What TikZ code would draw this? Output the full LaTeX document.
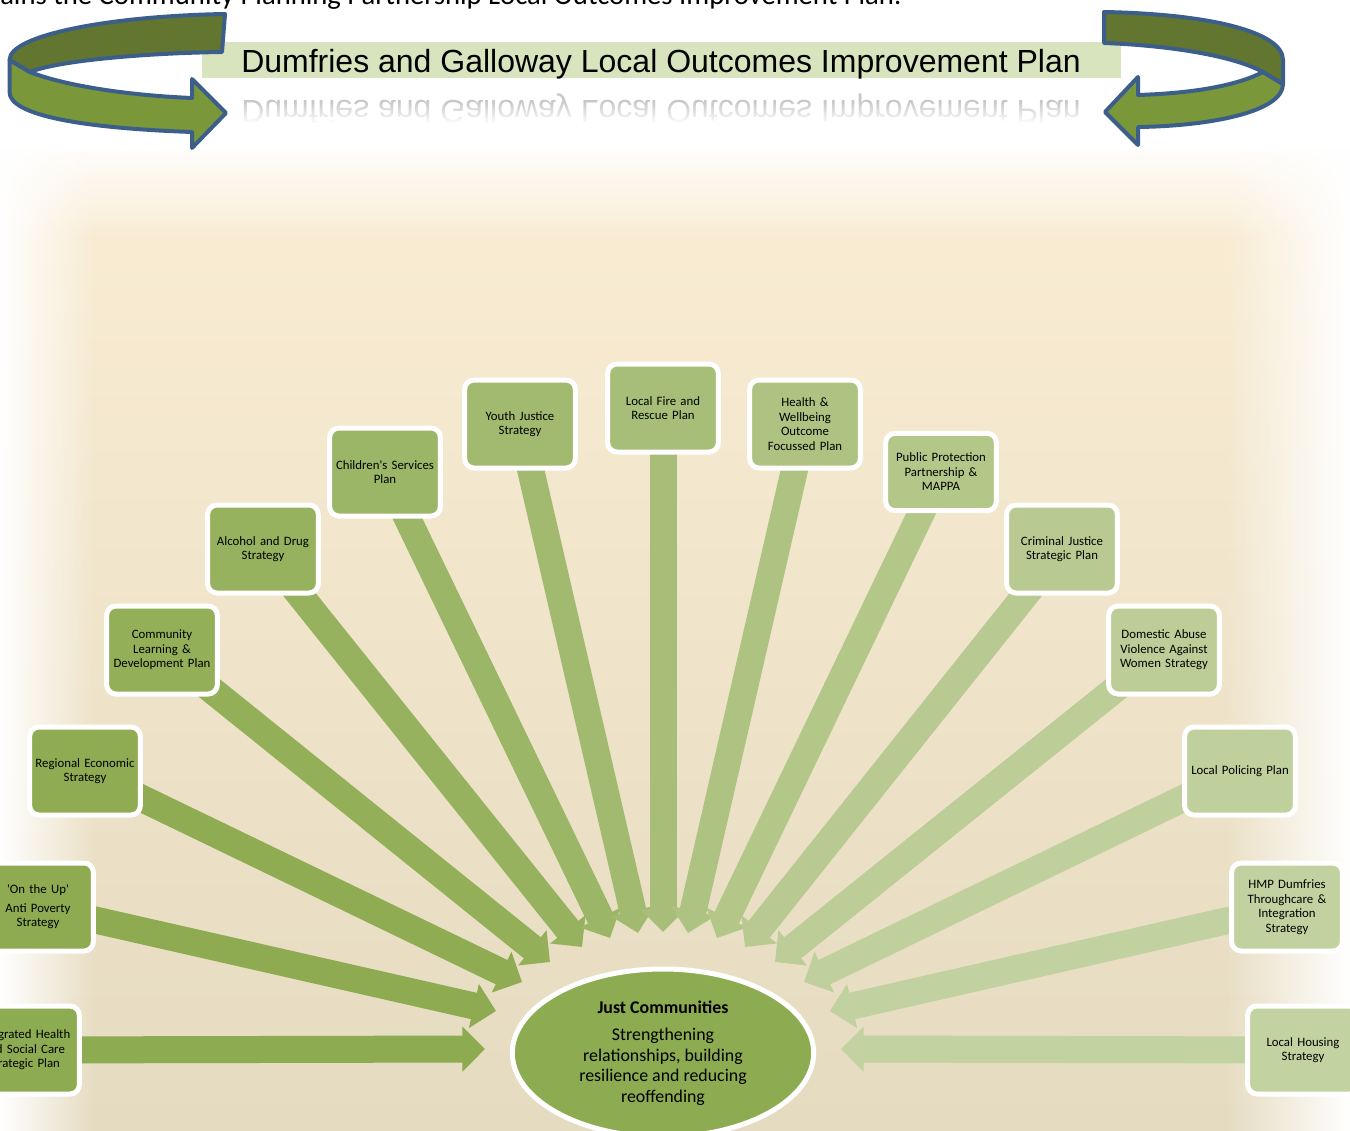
\documentclass[tikz,border=0pt]{standalone}
\usepackage{fontspec}
\setmainfont{Carlito}[Ligatures=TeXOff]
\newfontfamily\arialfont{Liberation Sans}
\usetikzlibrary{arrows.meta,shapes.geometric,fadings}

\definecolor{leafL}{RGB}{140,170,78}
\definecolor{leafR}{RGB}{196,211,163}
\definecolor{hubGreen}{RGB}{141,171,80}
\definecolor{bandGreen}{RGB}{216,228,190}
\definecolor{ribbonDark}{RGB}{98,118,48}
\definecolor{ribbonLight}{RGB}{122,152,58}
\definecolor{ribbonEdge}{RGB}{60,94,138}
\definecolor{paperTop}{RGB}{250,237,212}
\definecolor{paperMid}{RGB}{246,236,213}
\definecolor{paperBottom}{RGB}{229,219,192}

\tikzfading[name=fade right, left color=transparent!0, right color=transparent!100]
\tikzfading[name=fade left, left color=transparent!100, right color=transparent!0]
\tikzfading[name=fade down, top color=transparent!0, bottom color=transparent!100]
\tikzfading[name=fade up, top color=transparent!100, bottom color=transparent!0]

\pgfdeclarelayer{paper}
\pgfdeclarelayer{links}
\pgfsetlayers{paper,links,main}

\tikzset{
  plan/.style={draw=white, line width=3.75pt, rounded corners=7pt, text width=79pt, inner xsep=2pt,
    minimum height=66pt, align=center, font=\fontsize{9.6}{10.9}\selectfont},
  feed/.style={line width=20.25pt, -{Triangle[length=17pt,width=33pt]}},
  hub/.style={ellipse, draw=white, line width=3.75pt, fill=hubGreen, minimum width=226pt,
    minimum height=126pt, inner sep=0pt, align=center, font=\fontsize{13.4}{15.4}\selectfont},
  ribbon/.style={draw=ribbonEdge, line width=3pt, line join=round},
}

\begin{document}
\begin{tikzpicture}[x=0.75pt,y=-0.75pt]
\useasboundingbox (0,0) rectangle (1350,1131);

% Text Node
\node[anchor=base west, inner sep=0pt, font=\fontsize{21.5}{24}\selectfont] (intro) at (0,5) {ains the Community Planning Partnership Local Outcomes Improvement Plan.};

%Shape: Rectangle
\fill[bandGreen] (202,42) rectangle (1121,78);
% Text Node
\node[anchor=base, inner sep=0pt, font=\arialfont\fontsize{24}{28}\selectfont] (title) at (661,73) {Dumfries and Galloway Local Outcomes Improvement Plan};
% Text Node
\node[anchor=base, inner sep=0pt, text=black!22, font=\arialfont\fontsize{24}{28}\selectfont] (mirror) at (661,100) {\scalebox{1}[-1]{Dumfries and Galloway Local Outcomes Improvement Plan}};
\fill[white, path fading=fade up] (232,101) rectangle (1098,124);
\fill[white] (232,123) rectangle (1098,140);

%Curve Lines: left loop
\draw[ribbon, fill=ribbonLight] (9.5,60) -- (30,72) .. controls (60,84) and (120,95) .. (192,98) -- (192,79) -- (226,113) -- (192,148) -- (192,132) .. controls (80,128) and (9.5,115) .. (9.5,92) -- cycle;
\draw[ribbon, fill=ribbonDark] (225,14) .. controls (110,16) and (9.5,35) .. (9.5,60) -- (30,72) .. controls (60,60) and (150,53) .. (222,52) -- cycle;
%Curve Lines: right loop
\draw[ribbon, fill=ribbonLight] (1263,72) -- (1283,84) .. controls (1283,112) and (1210,126) .. (1138,127) -- (1138,145) -- (1105,112) -- (1138,77) -- (1138,95) .. controls (1200,93) and (1240,84) .. (1263,72) -- cycle;
\draw[ribbon, fill=ribbonDark] (1104,12) .. controls (1210,14) and (1283,32) .. (1283,60) -- (1283,84) -- (1263,72) .. controls (1230,54) and (1160,45) .. (1104,43) -- cycle;

%Shape: Rounded Rect
\node[plan, fill=leafL!98!leafR] (integ) at (24,1050) {Integrated Health\\and Social Care\\Strategic Plan};
\node[plan, fill=leafL!97!leafR] (uptown) at (38,907) {'On the Up'\\[3pt]Anti Poverty\\Strategy};
\node[plan, fill=leafL!94!leafR] (region) at (85,771) {Regional Economic\\Strategy};
\node[plan, fill=leafL!88!leafR] (learning) at (162,650) {Community\\Learning \&\\Development Plan};
\node[plan, fill=leafL!81!leafR] (alcohol) at (263,549) {Alcohol and Drug\\Strategy};
\node[plan, fill=leafL!71!leafR] (children) at (385,472) {Children's Services\\Plan};
\node[plan, fill=leafL!61!leafR] (youth) at (520,424) {Youth Justice\\Strategy};
\node[plan, fill=leafL!51!leafR] (fire) at (663,408) {Local Fire and\\Rescue Plan};
\node[plan, fill=leafL!40!leafR] (health) at (805,424) {Health \&\\Wellbeing\\Outcome\\Focussed Plan};
\node[plan, fill=leafL!30!leafR, minimum height=58pt] (protect) at (941,472) {Public Protection\\Partnership \&\\MAPPA};
\node[plan, fill=leafL!21!leafR] (crim) at (1062,549) {Criminal Justice\\Strategic Plan};
\node[plan, fill=leafL!14!leafR] (domestic) at (1164,650) {Domestic Abuse\\Violence Against\\Women Strategy};
\node[plan, fill=leafL!8!leafR] (policing) at (1240,771) {Local Policing Plan};
\node[plan, fill=leafL!5!leafR] (hmp) at (1287,907) {HMP Dumfries\\Throughcare \&\\Integration\\Strategy};
\node[plan, fill=leafL!3!leafR] (housing) at (1303,1050) {Local Housing\\Strategy};

%Shape: Ellipse
\node[hub] (hub) at (663,1053) {\textbf{Just Communities}\\[5.5pt]Strengthening\\relationships, building\\resilience and reducing\\reoffending};

% arrow heads meet round the top of the ellipse
\coordinate (tInteg) at (485,1049);
\coordinate (tUptown) at (496,1011);
\coordinate (tRegion) at (522,982);
\coordinate (tLearning) at (550,962);
\coordinate (tAlcohol) at (582,947);
\coordinate (tChildren) at (610,938);
\coordinate (tYouth) at (638,933);
\coordinate (tFire) at (663,932);
\coordinate (tHealth) at (688,933);
\coordinate (tProtect) at (717,938);
\coordinate (tCrim) at (745,947);
\coordinate (tDomestic) at (775,962);
\coordinate (tPolicing) at (804,982);
\coordinate (tHmp) at (830,1011);
\coordinate (tHousing) at (841,1049);

%Straight Lines
\begin{pgfonlayer}{links}
\draw[feed, leafL!98!leafR] (integ.center) -- (tInteg);
\draw[feed, leafL!97!leafR] (uptown.center) -- (tUptown);
\draw[feed, leafL!94!leafR] (region.center) -- (tRegion);
\draw[feed, leafL!88!leafR] (learning.center) -- (tLearning);
\draw[feed, leafL!81!leafR] (alcohol.center) -- (tAlcohol);
\draw[feed, leafL!71!leafR] (children.center) -- (tChildren);
\draw[feed, leafL!61!leafR] (youth.center) -- (tYouth);
\draw[feed, leafL!51!leafR] (fire.center) -- (tFire);
\draw[feed, leafL!40!leafR] (health.center) -- (tHealth);
\draw[feed, leafL!30!leafR] (protect.center) -- (tProtect);
\draw[feed, leafL!21!leafR] (crim.center) -- (tCrim);
\draw[feed, leafL!14!leafR] (domestic.center) -- (tDomestic);
\draw[feed, leafL!8!leafR] (policing.center) -- (tPolicing);
\draw[feed, leafL!5!leafR] (hmp.center) -- (tHmp);
\draw[feed, leafL!3!leafR] (housing.center) -- (tHousing);
\end{pgfonlayer}

%Shape: backdrop
\begin{pgfonlayer}{paper}
\shade[top color=paperTop, middle color=paperMid, bottom color=paperBottom] (0,150) rectangle (1350,1131);
\fill[white, path fading=fade down] (0,140) rectangle (1350,240);
\fill[white, path fading=fade right] (0,140) rectangle (95,1131);
\fill[white, path fading=fade left] (1225,140) rectangle (1350,1131);
\end{pgfonlayer}

\end{tikzpicture}
\end{document}
